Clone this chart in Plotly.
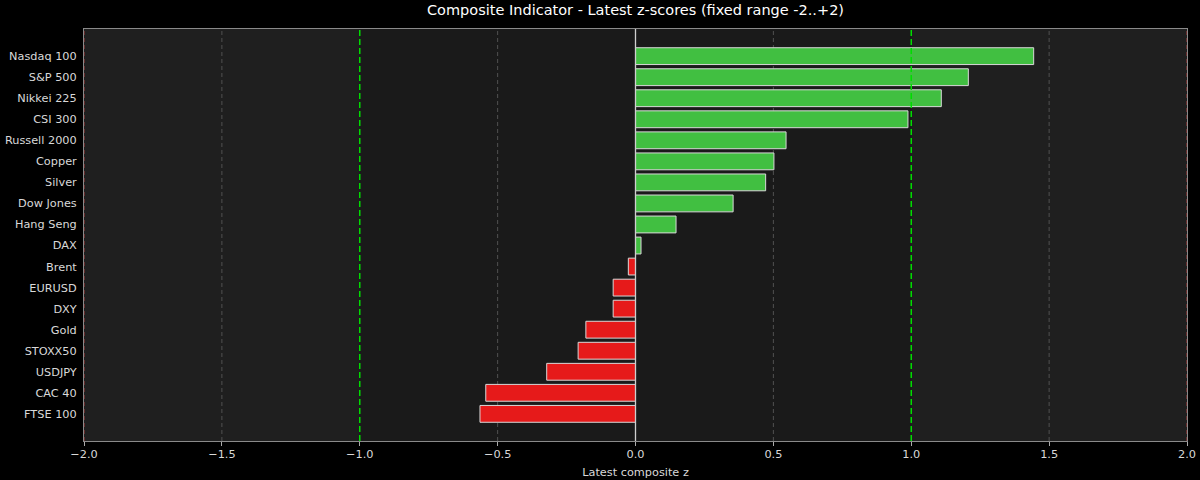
import plotly.graph_objects as go

categories = ["Nasdaq 100", "S&P 500", "Nikkei 225", "CSI 300", "Russell 2000", "Copper",
              "Silver", "Dow Jones", "Hang Seng", "DAX", "Brent", "EURUSD", "DXY", "Gold",
              "STOXX50", "USDJPY", "CAC 40", "FTSE 100"]
z_scores = [1.444, 1.207, 1.109, 0.988, 0.546, 0.502, 0.472, 0.354, 0.147, 0.020,
            -0.026, -0.081, -0.081, -0.180, -0.208, -0.322, -0.543, -0.564]
x_ticks = [-2.0, -1.5, -1.0, -0.5, 0.0, 0.5, 1.0, 1.5, 2.0]
x_tick_labels = ["\u22122.0", "\u22121.5", "\u22121.0", "\u22120.5", "0.0", "0.5", "1.0", "1.5", "2.0"]

GREEN = "#41bf41"
RED = "#e61a1a"
colors = [GREEN if v >= 0 else RED for v in z_scores]
FONT = "DejaVu Sans"

fig = go.Figure()
fig.add_trace(go.Bar(
    x=z_scores, y=categories, orientation="h",
    marker=dict(color=colors, line=dict(color="#d8d8d8", width=1)),
    width=0.8, showlegend=False,
))

shapes = []
shapes.append(dict(type="rect", xref="x", yref="paper", x0=-1, x1=1, y0=0, y1=1,
                   fillcolor="#1a1a1a", line=dict(width=0), layer="below"))
for gx in [-1.5, -0.5, 0.5, 1.5]:
    shapes.append(dict(type="line", xref="x", yref="paper", x0=gx, x1=gx, y0=0, y1=1,
                       line=dict(color="#505050", width=1, dash="4px,3px"), layer="below"))
for gx in [-1, 1]:
    shapes.append(dict(type="line", xref="x", yref="paper", x0=gx, x1=gx, y0=0, y1=1,
                       line=dict(color="#00dd00", width=1.5, dash="6px,3px"), layer="above"))
shapes.append(dict(type="line", xref="x", yref="paper", x0=0, x1=0, y0=0, y1=1,
                   line=dict(color="#cfcfcf", width=1.3), layer="above"))
for gx in [-2, 2]:
    shapes.append(dict(type="line", xref="x", yref="paper", x0=gx, x1=gx, y0=0, y1=1,
                       line=dict(color="#aa3a3a", width=1, dash="4px,3px"), layer="above"))

fig.update_layout(
    width=1200, height=480,
    margin=dict(l=84, r=13, t=29, b=39, autoexpand=False),
    paper_bgcolor="#000000", plot_bgcolor="#1f1f1f",
    font=dict(family=FONT, size=11.3, color="#d9d9d9"),
    title=dict(text="Composite Indicator - Latest z-scores (fixed range -2..+2)",
               x=0.5, xanchor="center", xref="paper", y=1 - 10 / 480, yanchor="middle",
               font=dict(family=FONT, size=14.5, color="#ffffff")),
    shapes=shapes,
    bargap=0.2,
)
fig.update_xaxes(
    range=[-2, 2], tickvals=x_ticks, ticktext=x_tick_labels, automargin=False,
    showgrid=False, zeroline=False,
    ticks="outside", ticklen=4, tickcolor="#aaaaaa", ticklabelstandoff=-2,
    showline=True, linecolor="#8a8a8a", linewidth=1, mirror=True,
    tickfont=dict(family=FONT, size=11.3, color="#d9d9d9"),
    title=dict(text="Latest composite z", font=dict(family=FONT, size=11.3, color="#d9d9d9"), standoff=8),
)
fig.update_yaxes(
    type="category", categoryorder="array", categoryarray=categories, automargin=False,
    range=[len(categories) - 1 + 0.4 + 0.89, -0.4 - 0.89],
    showgrid=False, zeroline=False, ticks="", ticklen=0, ticklabelstandoff=4,
    showline=True, linecolor="#8a8a8a", linewidth=1, mirror=True,
    tickfont=dict(family=FONT, size=11.3, color="#d9d9d9"),
)

fig.write_html("out.html", config={"displayModeBar": False})
with open("out.html", "r", encoding="utf-8") as f:
    html = f.read()
html = html.replace("<body>", '<body style="margin:0;background:#000;">', 1)
with open("out.html", "w", encoding="utf-8") as f:
    f.write(html)
